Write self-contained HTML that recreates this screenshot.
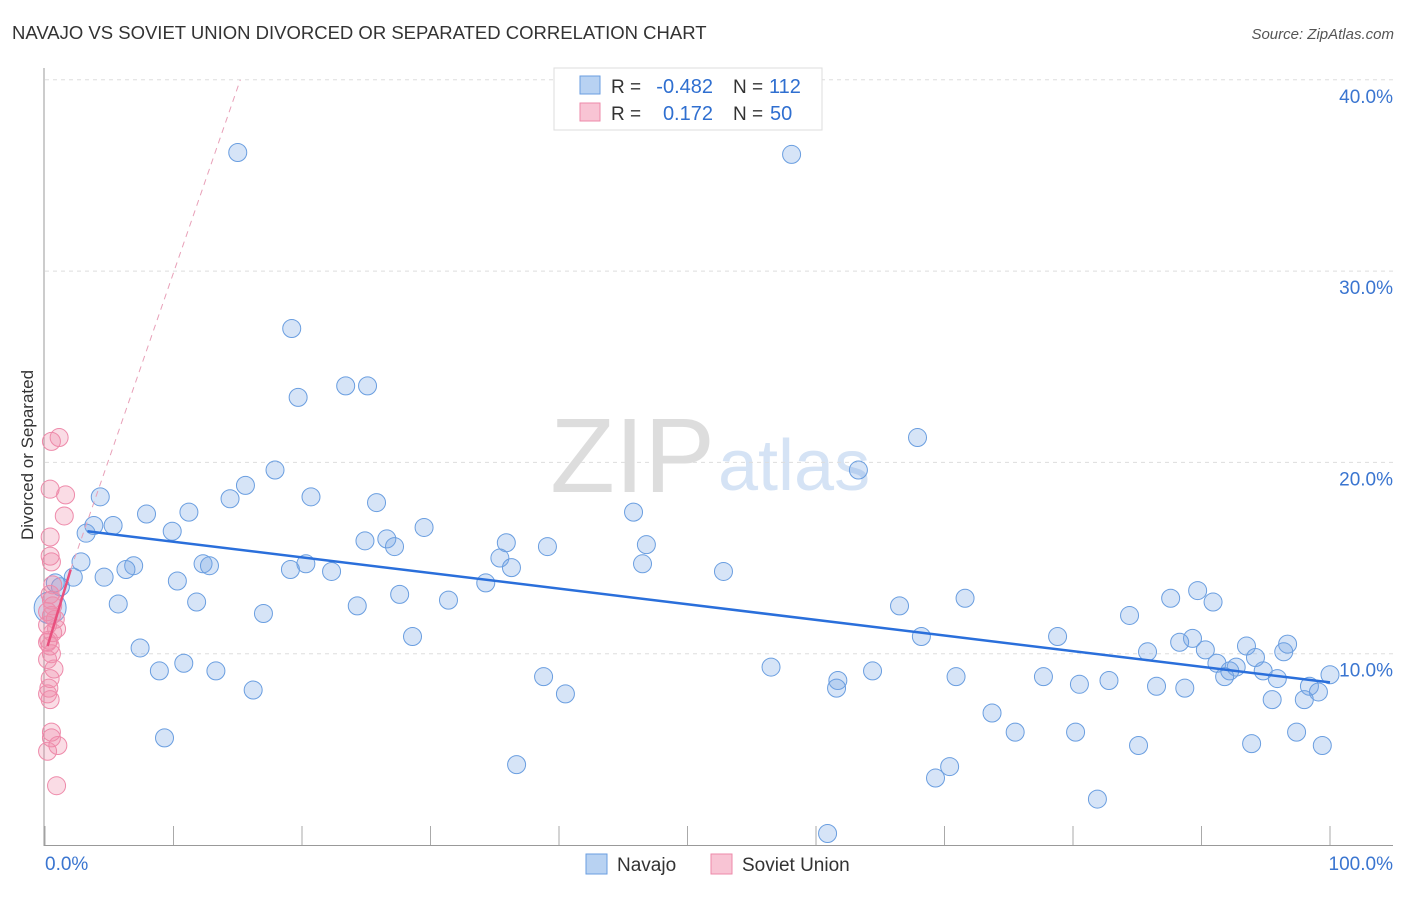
<!DOCTYPE html>
<html><head><meta charset="utf-8"><style>
body{margin:0;background:#fff;font-family:"Liberation Sans",sans-serif;}
svg text{font-family:"Liberation Sans",sans-serif;}
</style></head><body>
<svg id="chart" width="1406" height="892" xmlns="http://www.w3.org/2000/svg">
<text x="12" y="39" font-size="18.5" fill="#333">NAVAJO VS SOVIET UNION DIVORCED OR SEPARATED CORRELATION CHART</text>
<text x="1394" y="39" font-size="15" fill="#555" text-anchor="end" font-style="italic">Source: ZipAtlas.com</text>
<text x="715" y="492" font-size="106" fill="#ddd" text-anchor="end" font-family="Liberation Serif">ZIP</text>
<text x="718" y="490" font-size="72" fill="#d5e3f5">atlas</text>
<g id="grid"></g><g id="axes"></g><g id="pts"></g><g id="trend"></g>
<text transform="translate(33,455) rotate(-90)" font-size="17" fill="#333" text-anchor="middle">Divorced or Separated</text>
<g>
<rect x="554" y="68" width="268" height="62" fill="#fff" stroke="#ddd"/>
<rect x="580" y="76" width="20" height="18" fill="#b8d2f2" stroke="#6a9ee0"/>
<rect x="580" y="103" width="20" height="18" fill="#f8c4d4" stroke="#ee8aaa"/>
<text x="611" y="93" font-size="19" fill="#333">R =</text>
<text x="713" y="93" font-size="20" fill="#2f6fd0" text-anchor="end">-0.482</text>
<text x="733" y="93" font-size="19" fill="#333">N =</text>
<text x="769" y="93" font-size="20" fill="#2f6fd0">112</text>
<text x="611" y="120" font-size="19" fill="#333">R =</text>
<text x="713" y="120" font-size="20" fill="#2f6fd0" text-anchor="end">0.172</text>
<text x="733" y="120" font-size="19" fill="#333">N =</text>
<text x="770" y="120" font-size="20" fill="#2f6fd0">50</text>
</g>
<g>
<rect x="586" y="854" width="21" height="20" fill="#b8d2f2" stroke="#6a9ee0"/>
<text x="617" y="871" font-size="19" fill="#333">Navajo</text>
<rect x="711" y="854" width="21" height="20" fill="#f8c4d4" stroke="#ee8aaa"/>
<text x="742" y="871" font-size="19" fill="#333">Soviet Union</text>
</g>
</svg>
<script>
const yTicks=[10,20,30,40];
const xTickLabels=["0.0%","100.0%"];
const navajoX=[15.0,58.1,19.2,19.7,23.4,25.1,67.9,63.3,17.9,15.6,4.3,20.7,14.4,25.8,7.9,11.2,45.8,3.8,5.3,29.5,3.2,9.9,24.9,26.6,27.2,35.9,39.1,46.8,35.4,2.8,12.3,12.8,20.3,6.9,6.3,46.5,36.3,19.1,22.3,52.8,4.6,2.2,10.3,34.3,1.2,0.8,27.6,89.7,71.6,87.6,90.9,31.4,5.7,11.8,24.3,66.5,0.4,17.0,84.4,28.6,68.2,78.8,89.3,88.3,96.7,7.4,93.5,90.3,85.8,96.4,94.2,91.2,10.8,56.5,92.7,92.2,8.9,13.3,64.4,94.8,100,91.8,38.8,70.9,77.7,95.9,61.7,80.5,82.8,61.6,86.5,88.7,98.4,99.1,16.2,40.5,95.5,98.0,73.7,75.5,80.2,97.4,9.3,93.9,85.1,99.4,36.7,70.4,69.3,81.9,60.9];
const navajoY=[36.2,36.1,27.0,23.4,24.0,24.0,21.3,19.6,19.6,18.8,18.2,18.2,18.1,17.9,17.3,17.4,17.4,16.7,16.7,16.6,16.3,16.4,15.9,16.0,15.6,15.8,15.6,15.7,15.0,14.8,14.7,14.6,14.7,14.6,14.4,14.7,14.5,14.4,14.3,14.3,14.0,14.0,13.8,13.7,13.5,13.7,13.1,13.3,12.9,12.9,12.7,12.8,12.6,12.7,12.5,12.5,12.4,12.1,12.0,10.9,10.9,10.9,10.8,10.6,10.5,10.3,10.4,10.2,10.1,10.1,9.8,9.5,9.5,9.3,9.3,9.1,9.1,9.1,9.1,9.1,8.9,8.8,8.8,8.8,8.8,8.7,8.6,8.4,8.6,8.2,8.3,8.2,8.3,8.0,8.1,7.9,7.6,7.6,6.9,5.9,5.9,5.9,5.6,5.3,5.2,5.2,4.2,4.1,3.5,2.4,0.6];
const sovietX=[1.1,0.5,1.6,0.4,1.5,0.4,0.4,0.5,0.6,0.5,0.6,0.5,0.8,0.2,0.6,0.3,0.4,0.5,0.2,0.4,0.3,0.2,0.4,0.5,0.5,1.0,0.2,0.9,0.9,0.2,0.4,0.2,0.7];
const sovietY=[21.3,21.1,18.3,18.6,17.2,16.1,15.1,14.8,13.6,12.8,12.5,12.0,11.8,11.5,11.1,10.7,10.4,10.0,9.7,8.7,8.2,7.9,7.6,5.9,5.6,5.2,4.9,3.1,11.3,12.2,13.1,10.6,9.2];
const navajoTrend=[3.3,16.4,100,8.5];
const sovietTrend=[0.2,10.4,2.0,14.4,15.2,40.0];
const NS="http://www.w3.org/2000/svg";
const X0=45,X1=1330,Y0=845,YPER=19.13;
const sx=v=>X0+(X1-X0)*v/100, sy=v=>Y0-v*YPER;
function mk(tag,attrs,parent){const e=document.createElementNS(NS,tag);for(const k in attrs)e.setAttribute(k,attrs[k]);document.getElementById(parent).appendChild(e);return e;}
yTicks.forEach(t=>{
 const l=mk('line',{x1:45,x2:1393,y1:sy(t),y2:sy(t),stroke:'#ddd','stroke-dasharray':'4,4'},'grid');
 
 
 const tx=mk('text',{x:1393,y:sy(t)+23,'font-size':19,fill:'#3a75d0','text-anchor':'end'},'grid');
 tx.textContent=t.toFixed(1)+'%';
 
 
});
let a=mk('line',{x1:44,x2:44,y1:68,y2:846,stroke:'#999'},'axes');


a=mk('line',{x1:44,x2:1393,y1:845.5,y2:845.5,stroke:'#999'},'axes');


for(let i=0;i<=10;i++){const t=mk('line',{x1:sx(i*10),x2:sx(i*10),y1:826,y2:845,stroke:'#aaa'},'axes');
 
 }
xTickLabels.forEach((s,i)=>{const t=mk('text',{x:i?1393:45,y:870,'font-size':19,fill:'#3a75d0','text-anchor':i?'end':'start'},'axes');t.textContent=s;
 
 });
navajoX.forEach((x,i)=>{const c=mk('circle',{cx:sx(x),cy:sy(navajoY[i]),r:i==56?16:9,fill:'rgba(120,165,230,0.3)',stroke:'#6a9ee0','stroke-width':1},'pts');
 
 });
sovietX.forEach((x,i)=>{const c=mk('circle',{cx:sx(x),cy:sy(sovietY[i]),r:9,fill:'rgba(240,140,170,0.3)',stroke:'#ee8aaa','stroke-width':1},'pts');
 
 });
let t=mk('line',{x1:sx(navajoTrend[0]),y1:sy(navajoTrend[1]),x2:sx(navajoTrend[2]),y2:sy(navajoTrend[3]),stroke:'#2a6fdb','stroke-width':2.5},'trend');


t=mk('line',{x1:sx(sovietTrend[0]),y1:sy(sovietTrend[1]),x2:sx(sovietTrend[2]),y2:sy(sovietTrend[3]),stroke:'#e8507e','stroke-width':2.5},'trend');


t=mk('line',{x1:sx(sovietTrend[2]),y1:sy(sovietTrend[3]),x2:sx(sovietTrend[4]),y2:sy(sovietTrend[5]),stroke:'#e8a0b8','stroke-width':1,'stroke-dasharray':'6,5'},'trend');


</script>
</body></html>
